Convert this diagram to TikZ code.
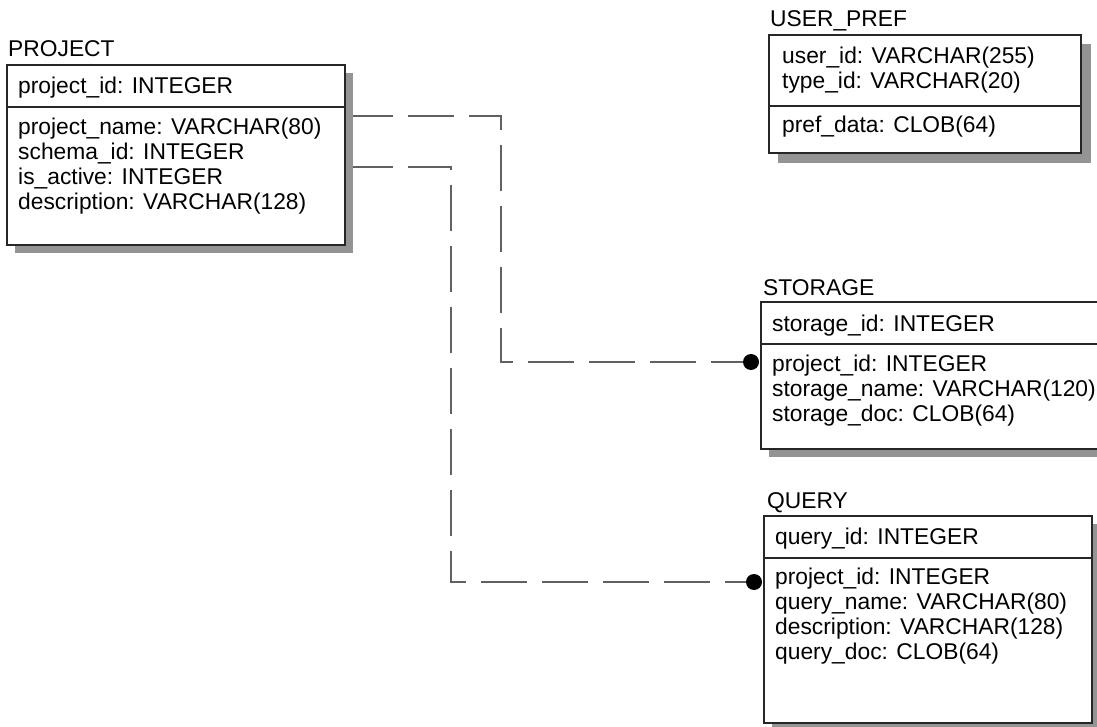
\documentclass[tikz,border=0pt]{standalone}
\usepackage{fontspec}
\setmainfont{Liberation Sans}
\tikzset{
  tbl/.style={draw=black!85, line width=1.2pt, fill=white, rectangle,
              inner sep=0pt, outer sep=0pt, anchor=north west},
  shade/.style={fill=black!42},
  sep/.style={draw=black!85, line width=1.2pt},
  fld/.style={anchor=base west, inner sep=0pt, font=\fontsize{22.8}{26}\selectfont},
  rel/.style={draw=black!62, line width=1.3pt, dash pattern=on 46pt off 15pt, dash phase=6pt},
  fkdot/.style={circle, fill=black, draw=none, inner sep=0pt, minimum size=16pt}
}
\begin{document}
\begin{tikzpicture}[x=1pt,y=-1pt]
\useasboundingbox[fill=white] (0,0) rectangle (1097,727);

% ---------- PROJECT ----------
\node[fld] (projectT) at (8,57) {PROJECT};
\fill[shade] (15,73) rectangle (353,253);
\node[tbl, minimum width=338pt, minimum height=180pt] (project) at (7,65) {};
\draw[sep] (7,107) -- (345,107);
\node[fld] (project1) at (18,94)  {project\_id: INTEGER};
\node[fld] (project2) at (18,135) {project\_name: VARCHAR(80)};
\node[fld] (project3) at (18,160) {schema\_id: INTEGER};
\node[fld] (project4) at (18,185) {is\_active: INTEGER};
\node[fld] (project5) at (18,210) {description: VARCHAR(128)};

% ---------- USER_PREF ----------
\node[fld] (prefT) at (770,27) {USER\_PREF};
\fill[shade] (778,44) rectangle (1091,163);
\node[tbl, minimum width=312pt, minimum height=118pt] (pref) at (769,35) {};
\draw[sep] (769,106) -- (1081,106);
\node[fld] (pref1) at (782,64)  {user\_id: VARCHAR(255)};
\node[fld] (pref2) at (782,89)  {type\_id: VARCHAR(20)};
\node[fld] (pref3) at (782,133) {pref\_data: CLOB(64)};

% ---------- STORAGE ----------
\node[fld] (storageT) at (763,295) {STORAGE};
\fill[shade] (769,310) rectangle (1120,457);
\node[tbl, minimum width=350pt, minimum height=147pt] (storage) at (761,302) {};
\draw[sep] (761,344) -- (1111,344);
\node[fld] (storage1) at (772,331) {storage\_id: INTEGER};
\node[fld] (storage2) at (772,371) {project\_id: INTEGER};
\node[fld] (storage3) at (772,396) {storage\_name: VARCHAR(120)};
\node[fld] (storage4) at (772,421) {storage\_doc: CLOB(64)};

% ---------- QUERY ----------
\node[fld] (queryT) at (767,508) {QUERY};
\fill[shade] (772,524) rectangle (1100,731);
\node[tbl, minimum width=328pt, minimum height=207pt] (query) at (764,516) {};
\draw[sep] (764,558) -- (1092,558);
\node[fld] (query1) at (775,544) {query\_id: INTEGER};
\node[fld] (query2) at (775,584) {project\_id: INTEGER};
\node[fld] (query3) at (775,609) {query\_name: VARCHAR(80)};
\node[fld] (query4) at (775,634) {description: VARCHAR(128)};
\node[fld] (query5) at (775,659) {query\_doc: CLOB(64)};

% ---------- relationships ----------
\coordinate (relA) at (353,116);
\coordinate (relB) at (353,167);
\coordinate (bendA) at (501,362);
\coordinate (bendB) at (451,582);
\node[fkdot] (fkStorage) at (751,362) {};
\node[fkdot] (fkQuery) at (754,582) {};
\draw[rel] (relA) -| (bendA) -- (fkStorage);
\draw[rel] (relB) -| (bendB) -- (fkQuery);
\end{tikzpicture}
\end{document}
